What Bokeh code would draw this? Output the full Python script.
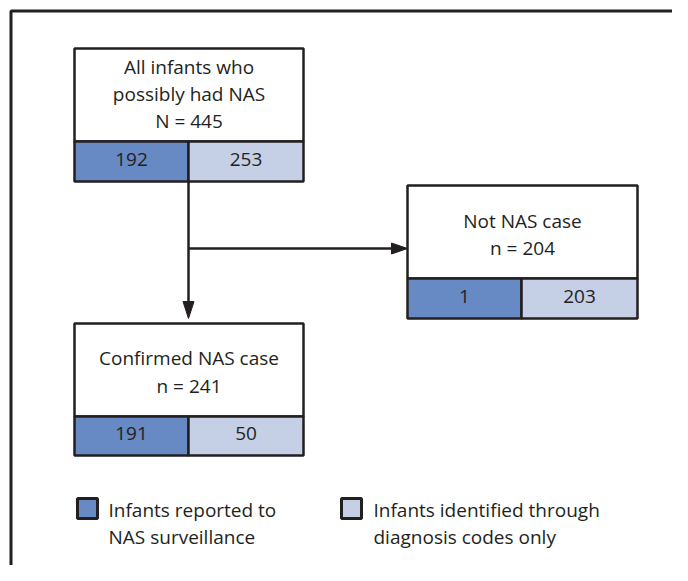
from bokeh.plotting import figure
from bokeh.models import Range1d, ColumnDataSource
from bokeh.core.properties import value
from bokeh.embed import file_html
from bokeh.resources import INLINE

# ---- data ----
box_titles = [
    ["All infants who", "possibly had NAS", "N = 445"],
    ["Not NAS case", "n = 204"],
    ["Confirmed NAS case", "n = 241"],
]
reported = [192, 1, 191]          # Infants reported to NAS surveillance
diag_only = [253, 203, 50]        # Infants identified through diagnosis codes only
legend_labels = [["Infants reported to", "NAS surveillance"],
                 ["Infants identified through", "diagnosis codes only"]]

# ---- style ----
DARK = "#6789C4"
LIGHT = "#C5CFE6"
INK = "#231F20"
FONT = "Open Sans"
FS = "19px"

# ---- layout (picture pixel coordinates) ----
boxes = [  # left, right, top, separator, bottom, split
    (74, 303, 48, 141, 181, 188),
    (407, 637, 185, 278, 318, 521),
    (74, 303, 323, 416, 455, 188),
]
title_y = [[66, 93, 120], [220, 247], [357, 385]]
num_y = [159, 296, 433]

W, H = 672, 565
p = figure(width=W, height=H, output_backend="svg", toolbar_location=None,
           x_range=Range1d(0, W), y_range=Range1d(H, 0),
           min_border=0, outline_line_color=None)
p.axis.visible = False
p.grid.visible = False
p.background_fill_color = "white"

# outer frame (left and top)
p.line([10.5, 10.5, 700], [700, 10.5, 10.5], line_color=INK, line_width=3)

# connectors
p.line([188, 188], [181, 305], line_color=INK, line_width=2.5)
p.line([188, 395], [248, 248], line_color=INK, line_width=2.5)
p.patches([[182.5, 193.5, 188], [391, 391, 407]],
          [[301, 301, 318], [242.5, 253.5, 248]],
          fill_color=INK, line_color=INK, line_width=1)

for i, (l, r, t, s, b, m) in enumerate(boxes):
    p.quad(left=l, right=r, top=t, bottom=s, fill_color="white",
           line_color=INK, line_width=2.5)
    src = ColumnDataSource(dict(left=[l, m], right=[m, r], top=[s, s], bottom=[b, b],
                                color=[DARK, LIGHT],
                                x=[(l + m) / 2, (m + r) / 2], y=[num_y[i]] * 2,
                                txt=[str(reported[i]), str(diag_only[i])]))
    p.quad(left="left", right="right", top="top", bottom="bottom", source=src,
           fill_color="color", line_color=INK, line_width=2.5)
    p.text(x="x", y="y", text="txt", source=src, text_font=value(FONT),
           text_font_size=FS, text_color=INK, text_align="center",
           text_baseline="middle")
    cx = (l + r) / 2
    p.text(x=[cx] * len(box_titles[i]), y=title_y[i], text=box_titles[i],
           text_font=value(FONT), text_font_size=FS, text_color=INK,
           text_align="center", text_baseline="middle")

# legend
leg_sq = [(77, 97), (341, 361)]
leg_tx = [108, 373]
for j, col in enumerate([DARK, LIGHT]):
    x0, x1 = leg_sq[j]
    p.quad(left=x0, right=x1, top=498, bottom=518, fill_color=col,
           line_color=INK, line_width=3)
    p.text(x=[leg_tx[j]] * 2, y=[509, 536], text=legend_labels[j],
           text_font=value(FONT), text_font_size=FS, text_color=INK,
           text_align="left", text_baseline="middle")

open("out.html", "w").write(file_html(p, INLINE))
